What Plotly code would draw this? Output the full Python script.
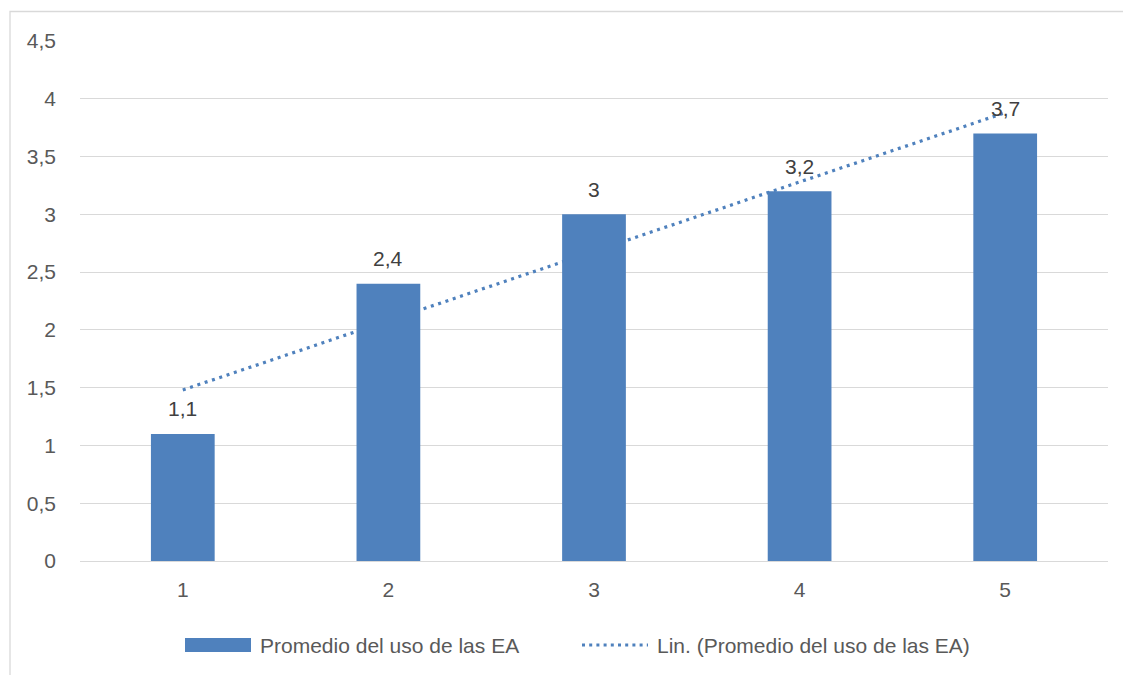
import numpy as np
import plotly.graph_objects as go

# Chart data
categories = [1, 2, 3, 4, 5]
promedio = [1.1, 2.4, 3.0, 3.2, 3.7]
y_ticks = [0, 0.5, 1, 1.5, 2, 2.5, 3, 3.5, 4, 4.5]
series_name = "Promedio del uso de las EA"
trend_name = "Lin. (Promedio del uso de las EA)"

BAR_COLOR = "#4F81BD"
GRID = "#D9D9D9"
TICK_COLOR = "#595959"
LABEL_COLOR = "#404040"
FONT = "Liberation Sans, Arial, sans-serif"

W, H = 1123, 675
ML, MR, MT, MB = 80, 15, 41, 114
PW, PH = W - ML - MR, H - MT - MB


def px_x(px):
    return (px - ML) / PW


def px_y(py):
    return (H - MB - py) / PH


def fmt(v):
    return f"{v:g}".replace(".", ",")


# Linear trend line fitted to the series
slope, intercept = np.polyfit(categories, promedio, 1)
trend = [slope * c + intercept for c in categories]

fig = go.Figure()

fig.add_trace(go.Scatter(
    x=categories, y=trend, mode="lines", name=trend_name,
    line=dict(color=BAR_COLOR, width=3.2, dash="3px,4.7px"),
    showlegend=False, zorder=0, hoverinfo="skip",
))

fig.add_trace(go.Bar(
    x=categories, y=promedio, name=series_name,
    marker=dict(color=BAR_COLOR, line=dict(width=0)),
    width=0.31, showlegend=False, zorder=1,
))

# Value labels above each bar
for c, v in zip(categories, promedio):
    fig.add_annotation(
        x=c, y=v, text=fmt(v), showarrow=False,
        yanchor="middle", yshift=25,
        font=dict(family=FONT, size=21, color=LABEL_COLOR),
    )

shapes = [
    # outer chart border (top and left edges visible)
    dict(type="rect", xref="paper", yref="paper",
         x0=px_x(10), x1=px_x(1140), y0=px_y(11.5), y1=px_y(700),
         line=dict(color=GRID, width=1.3), fillcolor="rgba(0,0,0,0)", layer="below"),
    # legend swatches
    dict(type="rect", xref="paper", yref="paper",
         x0=px_x(185), x1=px_x(251), y0=px_y(638), y1=px_y(652),
         line=dict(width=0), fillcolor=BAR_COLOR),
    dict(type="line", xref="paper", yref="paper",
         x0=px_x(582), x1=px_x(648), y0=px_y(645), y1=px_y(645),
         line=dict(color=BAR_COLOR, width=3.2, dash="3px,4.2px")),
]

legend_texts = [
    dict(x=px_x(258), text=series_name),
    dict(x=px_x(655), text=trend_name),
]
for lt in legend_texts:
    fig.add_annotation(
        x=lt["x"], y=px_y(645), xref="paper", yref="paper",
        text=lt["text"], showarrow=False, xanchor="left", yanchor="middle",
        font=dict(family=FONT, size=21, color=TICK_COLOR),
    )

fig.update_layout(
    width=W, height=H,
    margin=dict(l=ML, r=MR, t=MT, b=MB, pad=0),
    paper_bgcolor="white", plot_bgcolor="white",
    separators=",.",
    font=dict(family=FONT, size=21, color=TICK_COLOR),
    shapes=shapes,
    bargap=0.69,
    showlegend=False,
    xaxis=dict(
        range=[0.5, 5.5], tickmode="array", tickvals=categories,
        ticktext=[str(c) for c in categories],
        showgrid=False, zeroline=False, showline=False, ticks="",
        ticklabelstandoff=14,
        tickfont=dict(family=FONT, size=21, color=TICK_COLOR),
    ),
    yaxis=dict(
        range=[0, 4.5], tickmode="array", tickvals=y_ticks,
        ticktext=[fmt(t) for t in y_ticks],
        showgrid=True, gridcolor=GRID, gridwidth=1.3,
        zeroline=True, zerolinecolor=GRID, zerolinewidth=1.3,
        showline=False, ticks="", ticklabelstandoff=23,
        tickfont=dict(family=FONT, size=21, color=TICK_COLOR),
    ),
)

fig.write_html("out.html")
